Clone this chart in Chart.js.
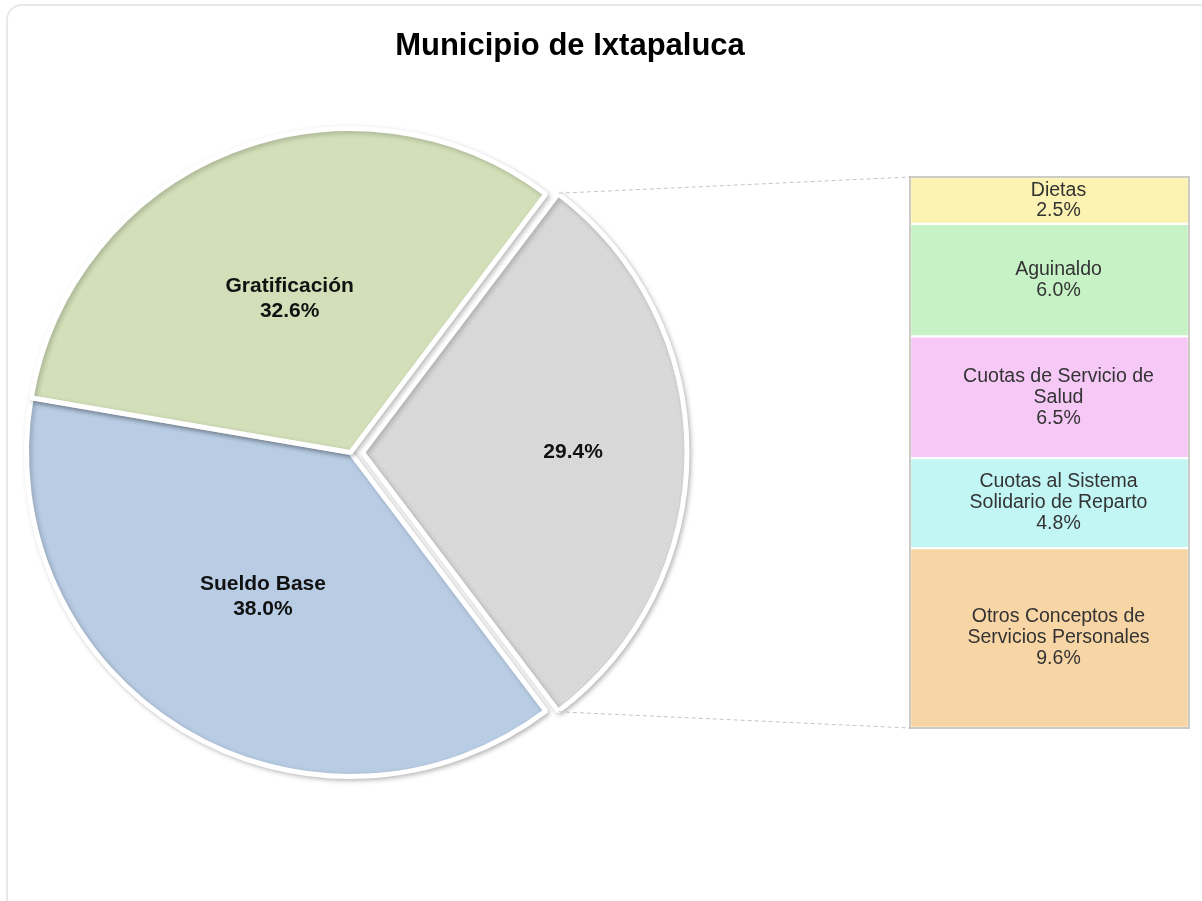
<!DOCTYPE html>
<html>
<head>
<meta charset="utf-8">
<script src="https://cdn.jsdelivr.net/npm/chart.js@4.4.1/dist/chart.umd.min.js"></script>
<style>
  html, body { margin: 0; padding: 0; background: #ffffff; width: 1202px; height: 901px; overflow: hidden; }
  #card { position: absolute; left: 6px; top: 4px; width: 1215px; height: 915px; border: 2px solid #e8e8e8; border-radius: 16px; box-sizing: border-box; }
  #pie { position: absolute; left: 0; top: 0; }
  #bar { position: absolute; left: 905px; top: 172px; }
</style>
</head>
<body>
<div id="card"></div>
<canvas id="pie" width="1202" height="901"></canvas>
<canvas id="bar" width="289" height="561"></canvas>
<script>
// ---- data ----
const chartTitle = 'Municipio de Ixtapaluca';
const pieCategories = ['Otros', 'Sueldo Base', 'Gratificación'];
const pieValues = [29.4, 38.0, 32.6];
const barCategories = [
  ['Dietas'],
  ['Aguinaldo'],
  ['Cuotas de Servicio de', 'Salud'],
  ['Cuotas al Sistema', 'Solidario de Reparto'],
  ['Otros Conceptos de', 'Servicios Personales']
];
const barValues = [2.5, 6.0, 6.5, 4.8, 9.6];

// ---- styles ----
const barColors = ['#fcf2b2', '#c6f2c6', '#f6c8f6', '#c2f6f4', '#f8d5a5'];
const pieSolid = ['#d8d8d8', '#b8cce4', '#d3dfb8'];

function grayPattern() {
  const c = document.createElement('canvas');
  c.width = 4; c.height = 4;
  const g = c.getContext('2d');
  g.fillStyle = '#d7d7d7';
  g.fillRect(0, 0, 4, 4);
  g.fillStyle = '#e2e2e2';
  g.fillRect(0, 0, 1, 1);
  g.fillRect(2, 2, 1, 1);
  return g.createPattern(c, 'repeat');
}
const pieColors = [grayPattern(), pieSolid[1], pieSolid[2]];

const barTotal = barValues.reduce((a, b) => a + b, 0);
const pieTotal = pieValues.reduce((a, b) => a + b, 0);

// ---- bar chart (breakdown of the "other" slice) ----
const barLabelPlugin = {
  id: 'barLabels',
  afterDatasetsDraw(chart) {
    const ctx = chart.ctx;
    const first = chart.getDatasetMeta(0).data[0];
    const last = chart.getDatasetMeta(barValues.length - 1).data[0];
    const top = Math.min(first.y, first.base);
    const bottom = Math.max(last.y, last.base);
    ctx.save();
    ctx.strokeStyle = 'rgba(110,110,90,0.35)';
    ctx.lineWidth = 2;
    ctx.strokeRect(first.x - first.width / 2, top, first.width, bottom - top);
    ctx.restore();

    ctx.save();
    ctx.font = '19.5px "Liberation Sans", Arial, sans-serif';
    ctx.fillStyle = '#333333';
    ctx.textAlign = 'center';
    ctx.textBaseline = 'middle';
    barValues.forEach((v, i) => {
      const el = chart.getDatasetMeta(i).data[0];
      const t = Math.min(el.y, el.base), b = Math.max(el.y, el.base);
      const lines = [...barCategories[i], v.toFixed(1) + '%'];
      const lh = Math.min(21, (b - t - 8) / lines.length);
      const cy = (t + b) / 2;
      const cx = el.x + 9;
      lines.forEach((ln, k) => {
        ctx.fillText(ln, cx, cy + (k - (lines.length - 1) / 2) * lh);
      });
    });
    ctx.restore();
  }
};

const barChart = new Chart(document.getElementById('bar'), {
  type: 'bar',
  data: {
    labels: [''],
    datasets: barValues.map((v, i) => ({
      label: barCategories[i].join(' '),
      data: [v],
      backgroundColor: barColors[i],
      borderColor: 'rgba(255,255,255,0.8)',
      borderWidth: 1.5,
      borderSkipped: false,
      barPercentage: 1,
      categoryPercentage: 1
    }))
  },
  options: {
    responsive: false,
    animation: false,
    layout: { padding: 5 },
    scales: {
      x: { display: false, stacked: true },
      y: { display: false, stacked: true, reverse: true, min: 0, max: barTotal }
    },
    plugins: { legend: { display: false }, tooltip: { enabled: false } }
  },
  plugins: [barLabelPlugin]
});

// ---- pie chart ----
const shadowPlugin = {
  id: 'softShadow',
  beforeDatasetsDraw(chart) {
    const ctx = chart.ctx;
    ctx.save();
    ctx.shadowColor = 'rgba(0,0,0,0.22)';
    ctx.shadowBlur = 5;
    ctx.shadowOffsetX = 2;
    ctx.shadowOffsetY = 2;
  },
  afterDatasetsDraw(chart) {
    chart.ctx.restore();
  }
};

const pieDecorPlugin = {
  id: 'pieDecor',
  afterDraw(chart, args, opts) {
    const ctx = chart.ctx;
    // title
    ctx.save();
    ctx.font = 'bold 31px "Liberation Sans", Arial, sans-serif';
    ctx.fillStyle = '#000000';
    ctx.textAlign = 'center';
    ctx.textBaseline = 'middle';
    ctx.fillText(chartTitle, opts.titleX, opts.titleY);
    ctx.restore();

    const meta = chart.getDatasetMeta(0);
    // slice labels
    ctx.save();
    ctx.font = 'bold 21px "Liberation Sans", Arial, sans-serif';
    ctx.fillStyle = '#111111';
    ctx.textAlign = 'center';
    ctx.textBaseline = 'middle';
    meta.data.forEach((arc, i) => {
      const mid = (arc.startAngle + arc.endAngle) / 2;
      const shift = (arc.options.offset || 0) / 4;
      const d = arc.outerRadius * opts.labelRadius[i] + shift;
      const x = arc.x + Math.cos(mid) * d;
      const y = arc.y + Math.sin(mid) * d;
      const lines = i === 0 ? [pieValues[i].toFixed(1) + '%']
                            : [pieCategories[i], pieValues[i].toFixed(1) + '%'];
      lines.forEach((ln, k) => ctx.fillText(ln, x, y + (k - (lines.length - 1) / 2) * 25));
    });
    ctx.restore();

    // connector lines from the "other" slice to the bar
    const arc = meta.data[0];
    const circ = arc.endAngle - arc.startAngle;
    const off = (arc.options.offset || 0) / 4;
    const fix = 1 - Math.sin(Math.min(Math.PI, circ));
    const shift = off * (1 + fix);
    const mid = (arc.startAngle + arc.endAngle) / 2;
    const cx = arc.x + Math.cos(mid) * shift;
    const cy = arc.y + Math.sin(mid) * shift;
    const R = arc.outerRadius + 1;
    const p1 = [cx + Math.cos(arc.startAngle) * R, cy + Math.sin(arc.startAngle) * R];
    const p2 = [cx + Math.cos(arc.endAngle) * R, cy + Math.sin(arc.endAngle) * R];
    const barCanvas = barChart.canvas;
    const dx = barCanvas.offsetLeft - chart.canvas.offsetLeft;
    const dy = barCanvas.offsetTop - chart.canvas.offsetTop;
    const topEl = barChart.getDatasetMeta(0).data[0];
    const botEl = barChart.getDatasetMeta(barValues.length - 1).data[0];
    const bx = topEl.x - topEl.width / 2 + dx;
    const bTop = Math.min(topEl.y, topEl.base) + dy;
    const bBot = Math.max(botEl.y, botEl.base) + dy;
    ctx.save();
    ctx.strokeStyle = '#c4c4c4';
    ctx.lineWidth = 1;
    ctx.setLineDash([4, 3]);
    ctx.beginPath();
    ctx.moveTo(p1[0], p1[1]); ctx.lineTo(bx, bTop);
    ctx.moveTo(p2[0], p2[1]); ctx.lineTo(bx, bBot);
    ctx.stroke();
    ctx.restore();
  }
};

const otherShare = pieValues[0] / pieTotal * 360;

const pieChart = new Chart(document.getElementById('pie'), {
  type: 'pie',
  data: {
    labels: pieCategories,
    datasets: [{
      data: pieValues,
      backgroundColor: pieColors,
      borderColor: '#ffffff',
      borderWidth: 5,
      offset: [48, 0, 0],
      hoverOffset: 0
    }]
  },
  options: {
    responsive: false,
    animation: false,
    rotation: 90 - otherShare / 2,
    layout: { padding: { left: 0, top: 102, right: 501, bottom: 98 } },
    plugins: {
      legend: { display: false },
      tooltip: { enabled: false },
      pieDecor: { titleX: 570, titleY: 46, labelRadius: [0.65, 0.52, 0.51] }
    }
  },
  plugins: [shadowPlugin, pieDecorPlugin]
});
</script>
</body>
</html>
